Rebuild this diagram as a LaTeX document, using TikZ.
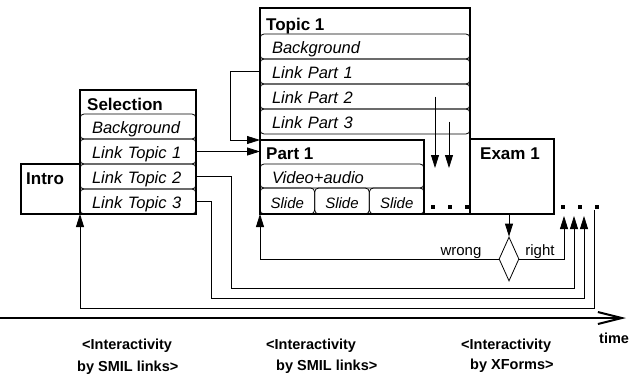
\documentclass[tikz,border=0pt]{standalone}
\usepackage{fontspec}
\setmainfont{Liberation Sans}
\usetikzlibrary{arrows.meta,shapes.geometric}
\newcommand{\rowfont}{\fontsize{16.5}{19}\selectfont\itshape}
\newcommand{\slidefont}{\fontsize{15}{18}\selectfont\itshape}

\begin{document}
\begin{tikzpicture}[x=1pt,y=-1pt,>={Triangle[length=13pt,width=8pt]},
  box/.style={draw,line width=1.5pt,anchor=north west,outer sep=0pt,inner sep=0pt},
  item/.style={draw,line width=0.8pt,rounded corners=4pt,anchor=north west,outer sep=0pt,
    inner ysep=0pt,inner xsep=12pt,minimum height=25pt,text height=14pt,text depth=0pt,
    align=left,text width=#1,font=\rowfont},
  head/.style={anchor=base west,inner sep=0pt,font=\bfseries\fontsize{17}{20}\selectfont},
  note/.style={anchor=base west,inner sep=0pt,font=\bfseries\fontsize{14.5}{17}\selectfont},
  link/.style={->,line width=0.8pt}]
  \useasboundingbox (0,0) rectangle (639,375);
  % rows of Topic 1, Selection and Part 1
  \foreach \t [count=\i] in {Background,Link Part 1,Link Part 2,Link Part 3}
    \node[item=186pt] (tr\i) at (260,9+25*\i) {\t};
  \foreach \t [count=\i] in {Background,Link Topic 1,Link Topic 2,Link Topic 3}
    \node[item=92pt] (sr\i) at (80,89+25*\i) {\t};
  \node[item=140pt,minimum height=24pt] (video) at (260,164) {Video+audio};
  \foreach \i in {0,1,2}
    \node[item=50.67pt,inner xsep=2pt,align=center,minimum height=26pt,font=\slidefont]
      (sl\i) at (260+54.67*\i,188) {Slide};
  % outer boxes
  \node[box,minimum width=210pt,minimum height=206pt] (topic) at (260,8) {};
  \node[box,minimum width=164pt,minimum height=74pt] (part) at (260,140) {};
  \node[box,minimum width=116pt,minimum height=124pt] (sel) at (80,90) {};
  \node[box,minimum width=59pt,minimum height=50pt] (intro) at (21,164) {};
  \node[box,minimum width=84pt,minimum height=75pt] (exam) at (470,139) {};
  \node[head] (topichead) at (266,30) {Topic 1};
  \node[head] (selhead) at (87,110) {Selection};
  \node[head] (parthead) at (266,159) {Part 1};
  \node[head] (examhead) at (480,159) {Exam 1};
  \node[head] (introhead) at (26,184) {Intro};
  \node[diamond,draw,line width=0.8pt,minimum width=20pt,minimum height=44pt,inner sep=0pt]
    (check) at (509,259) {};
  \node[anchor=base,inner sep=0pt,font=\fontsize{15}{18}\selectfont] (wrong) at (461,255) {wrong};
  \node[anchor=base,inner sep=0pt,font=\fontsize{15}{18}\selectfont] (right) at (540,255) {right};
  % continuation dots
  \foreach \x in {433,450,467,563,580,597}
    \fill (\x-1.6,205.4) rectangle ++(3.2,3.2);
  % links
  \coordinate (r1) at (564,216);
  \coordinate (r2) at (574,216);
  \coordinate (r3) at (584,216);
  \coordinate (r4) at (594,210);
  \coordinate (d1) at (435,168);
  \coordinate (d2) at (449,168);
  \draw[link] (sr2.east) -- (sr2.east -| part.west);
  \draw[link] (tr2.west) -- ++(-30,0) |- (part.north west);
  \draw[link] (sr3.east) -- ++(35,0) -- ++(0,112) -| (r2);
  \draw[link] (sr4.east) -- ++(15,0) -- ++(0,97) -| (r3);
  \draw[link] (r4) -- ++(0,98) -| (intro.south east);
  \draw[link] (check.west) -| (part.south west);
  \draw[link] (check.east) -| (r1);
  \draw[link] (check.north |- exam.south) -- (check.north);
  \draw[link] (d1 |- tr3) -- (d1);
  \draw[link] (d2 |- tr4) -- (d2);
  % time axis
  \coordinate (t0) at (0,318);
  \coordinate (t1) at (626,318);
  \draw[line width=2pt,-{Straight Barb[length=24pt,width=12pt]}] (t0) -- (t1);
  \node[note] (time) at (599,343) {time};
  \foreach \x/\y/\t [count=\i] in {82/349/{<Interactivity},77/371/{by SMIL links>},
      266/349/{<Interactivity},276/370/{by SMIL links>},461/349/{<Interactivity},470/369/{by XForms>}}
    \node[note] (n\i) at (\x,\y) {\t};
\end{tikzpicture}
\end{document}
